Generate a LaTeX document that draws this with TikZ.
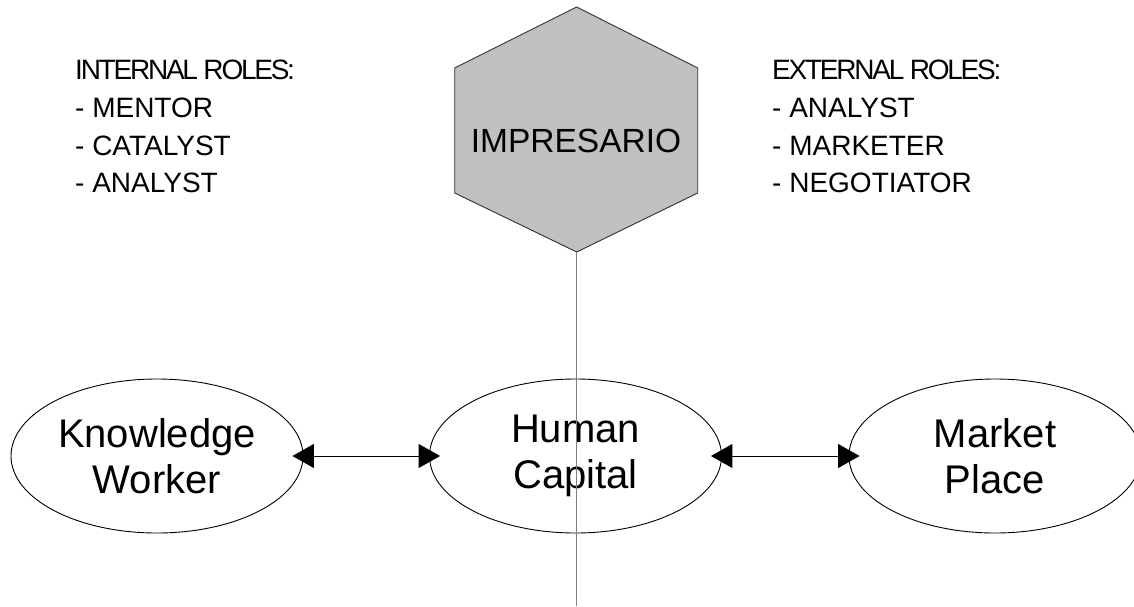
\documentclass[tikz,border=0pt]{standalone}
\usepackage{fontspec}
\setmainfont{Liberation Sans}
\usetikzlibrary{shapes.geometric,arrows.meta}
\definecolor{hexfill}{HTML}{C0C0C0}
\definecolor{hexline}{HTML}{303030}
\definecolor{axisgray}{HTML}{7F7F7F}
\begin{document}
\begin{tikzpicture}[x=1pt,y=-1pt,
  roles/.style={font=\fontsize{28}{37.7}\selectfont, align=left, inner sep=0pt, anchor=north west},
  bubble/.style={ellipse, draw=black, line width=0.9pt, minimum width=292pt, minimum height=154pt,
    inner sep=0pt, align=center, font=\fontsize{40}{46.6}\selectfont},
  link/.style={{Triangle[length=21.5pt,width=24pt]}-{Triangle[length=21.5pt,width=24pt]},
    line width=1pt, shorten <=-11pt, shorten >=-11pt},
  axis/.style={draw=axisgray, line width=1.3pt}]
\useasboundingbox (0,0) rectangle (1134,606);
\clip (0,0) rectangle (1134,606);

% central hexagon
\draw[fill=hexfill, draw=hexline, line width=0.9pt]
  (576.7,7) -- (697.7,68) -- (697.7,193) -- (576.7,252) -- (454.7,193) -- (454.7,68) -- cycle;
\node[font=\fontsize{33.5}{40}\selectfont, inner sep=0pt, anchor=base] (imp) at (576,152) {IMPRESARIO};
\coordinate (hexb) at (576.5,252);
\coordinate (axisend) at (576.5,606);

% role lists
\node[roles] (internal) at (75,60)
  {{\addfontfeatures{LetterSpace=-8}INTERNAL ROLES:}\\- MENTOR\\- CATALYST\\- ANALYST};
\node[roles] (external) at (772,60)
  {{\addfontfeatures{LetterSpace=-8}EXTERNAL ROLES:}\\- ANALYST\\- MARKETER\\- NEGOTIATOR};

% the three ellipses
\node[bubble] (kw) at (157,456) {Knowledge\\Worker};
\node[bubble] (hc) at (575.5,456) {Human\\Capital};
\node[bubble] (mp) at (995,456) {Market\\Place};

% connectors
\draw[link] (kw.east) -- (hc.west);
\draw[link] (hc.east) -- (mp.west);
\draw[axis] (hexb) -- (axisend);
\end{tikzpicture}
\end{document}
